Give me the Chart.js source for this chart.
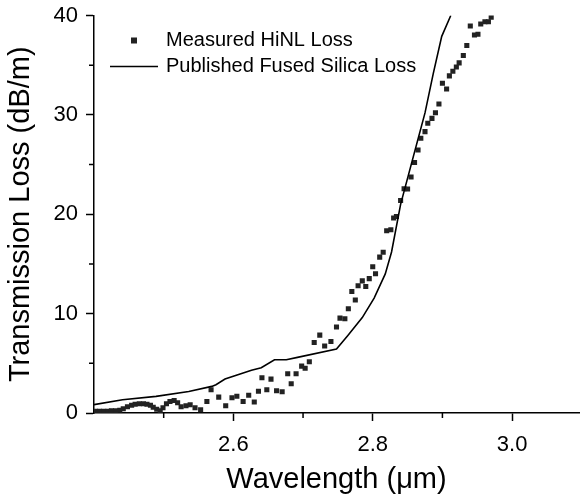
<!DOCTYPE html>
<html>
<head>
<meta charset="utf-8">
<title>Transmission loss</title>
<script src="https://cdn.jsdelivr.net/npm/chart.js"></script>
<style>
  html, body { margin: 0; padding: 0; background: #fff; overflow: hidden; }
  #wrap { width: 583px; height: 499px; }
</style>
</head>
<body>
<div id="wrap"><canvas id="lossChart"></canvas></div>
<script>
// measured HiNL fibre loss, wavelength in um, loss in dB/m
const measuredWl = [2.402, 2.408, 2.414, 2.420, 2.425, 2.431, 2.437, 2.442, 2.448, 2.454,
  2.459, 2.465, 2.471, 2.476, 2.481, 2.485, 2.490, 2.495, 2.499, 2.504,
  2.509, 2.515, 2.520, 2.525, 2.532, 2.538, 2.545, 2.553, 2.562, 2.568,
  2.579, 2.589, 2.598, 2.605, 2.614, 2.622, 2.630, 2.636, 2.641, 2.648,
  2.654, 2.662, 2.670, 2.678, 2.683, 2.690, 2.698, 2.703, 2.709, 2.716,
  2.724, 2.731, 2.740, 2.748, 2.753, 2.760, 2.765, 2.770, 2.775, 2.779,
  2.785, 2.790, 2.795, 2.800, 2.804, 2.810, 2.815, 2.820, 2.826, 2.830,
  2.834, 2.840, 2.845, 2.850, 2.855, 2.860, 2.865, 2.869, 2.875, 2.879,
  2.885, 2.890, 2.895, 2.900, 2.906, 2.910, 2.915, 2.920, 2.924, 2.930,
  2.935, 2.940, 2.946, 2.951, 2.955, 2.961, 2.966, 2.970];
const measuredLoss = [0.18, 0.18, 0.18, 0.18, 0.23, 0.23, 0.28, 0.43, 0.63, 0.78,
  0.88, 0.93, 0.93, 0.88, 0.78, 0.58, 0.38, 0.23, 0.53, 0.93,
  1.16, 1.26, 1.03, 0.63, 0.73, 0.83, 0.53, 0.33, 1.16, 2.34,
  1.60, 0.73, 1.54, 1.69, 1.16, 1.79, 1.10, 2.19, 3.55, 2.34,
  3.41, 2.24, 2.14, 3.95, 2.94, 3.95, 4.72, 4.50, 5.16, 7.10,
  7.84, 6.75, 7.19, 8.65, 9.55, 9.48, 10.49, 12.23, 11.37, 12.80,
  13.30, 12.73, 13.52, 14.71, 14.01, 15.69, 16.18, 18.34, 18.44, 19.62,
  19.78, 21.39, 22.57, 22.54, 23.75, 25.21, 26.47, 27.65, 28.31, 29.15,
  29.65, 30.22, 31.09, 33.18, 32.61, 33.92, 34.39, 34.82, 35.23, 35.98,
  36.98, 38.94, 38.04, 38.11, 39.14, 39.37, 39.37, 39.82];

// published fused silica loss
const silicaWl = [2.400, 2.441, 2.489, 2.536, 2.569, 2.575, 2.588, 2.626, 2.640, 2.659,
  2.676, 2.692, 2.748, 2.764, 2.785, 2.802, 2.818, 2.827, 2.840, 2.859,
  2.875, 2.887, 2.899, 2.912];
const silicaLoss = [0.84, 1.34, 1.67, 2.17, 2.68, 2.85, 3.42, 4.30, 4.55, 5.36,
  5.36, 5.60, 6.43, 7.77, 9.60, 11.56, 14.00, 16.20, 21.00, 26.00,
  30.20, 34.20, 37.90, 40.00];

const xMajor = [2.6, 2.8, 3.0];
const xMinor = [2.5, 2.7, 2.9];
const yMajor = [0, 10, 20, 30, 40];
const yMinor = [5, 15, 25, 35];

const seriesNames = ['Measured HiNL Loss', 'Published Fused Silica Loss'];

const FONT = "'Liberation Sans', Arial, sans-serif";

const near = (v, list) => list.some(t => Math.abs(t - v) < 1e-6);

const measuredPts = measuredWl.map((w, i) => ({ x: w, y: measuredLoss[i] }));
const silicaPts = silicaWl.map((w, i) => ({ x: w, y: silicaLoss[i] }));

// short minor ticks + in-plot legend
const extras = {
  id: 'extras',
  afterDraw(chart) {
    const ctx = chart.ctx;
    const xs = chart.scales.x, ys = chart.scales.y;
    const area = chart.chartArea;
    ctx.save();
    ctx.strokeStyle = '#000';
    ctx.lineWidth = 1.5;
    ctx.beginPath();
    xMinor.forEach(v => {
      const px = xs.getPixelForValue(v);
      ctx.moveTo(px, area.bottom);
      ctx.lineTo(px, area.bottom + 5);
    });
    yMinor.forEach(v => {
      const py = ys.getPixelForValue(v);
      ctx.moveTo(area.left, py);
      ctx.lineTo(area.left - 5, py);
    });
    ctx.stroke();

    // legend
    const lx = area.left + 40, ly1 = area.top + 25, ly2 = area.top + 51;
    ctx.fillStyle = '#222';
    ctx.fillRect(lx - 3, ly1 - 3, 6, 6);
    ctx.beginPath();
    ctx.lineWidth = 1.6;
    ctx.moveTo(lx - 24, ly2);
    ctx.lineTo(lx + 24, ly2);
    ctx.stroke();
    ctx.fillStyle = '#000';
    ctx.font = '20px ' + FONT;
    ctx.textBaseline = 'middle';
    ctx.fillText(seriesNames[0], lx + 32, ly1);
    ctx.fillText(seriesNames[1], lx + 32, ly2);
    ctx.restore();
  }
};

const ctx = document.getElementById('lossChart').getContext('2d');
const lossChart = new Chart(ctx, {
  type: 'scatter',
  data: {
    datasets: [{
      label: seriesNames[0],
      data: measuredPts,
      pointStyle: 'rect',
      pointRadius: 3.6,
      pointBackgroundColor: '#222',
      pointBorderWidth: 0,
      order: 2
    }, {
      type: 'line',
      label: seriesNames[1],
      data: silicaPts,
      borderColor: '#000',
      borderWidth: 1.6,
      pointRadius: 0,
      tension: 0,
      fill: false,
      order: 1
    }]
  },
  options: {
    responsive: true,
    maintainAspectRatio: false,
    animation: false,
    layout: { padding: { top: 15.5, right: 0, left: 0, bottom: 0 } },
    plugins: { legend: { display: false }, tooltip: { enabled: false } },
    scales: {
      x: {
        type: 'linear',
        min: 2.4,
        max: 3.096,
        afterFit(s) { s.height = 86; s.paddingLeft = 0; s.paddingRight = 0; },
        afterBuildTicks(s) { s.ticks = [2.4, 2.6, 2.8, 3.0].map(v => ({ value: v })); },
        ticks: {
          color: '#000',
          font: { family: FONT, size: 22 },
          padding: 11,
          maxRotation: 0,
          callback: v => near(v, xMajor) ? v.toFixed(1) : ''
        },
        grid: { drawOnChartArea: false, tickLength: 8, tickWidth: 1.5, tickColor: ctx2 => near(ctx2.tick.value, xMajor) ? '#000' : 'rgba(0,0,0,0)' },
        border: { color: '#000', width: 1.5 },
        title: { display: true, text: 'Wavelength (μm)', color: '#000', font: { family: FONT, size: 29 }, padding: { top: 2, bottom: 2 } }
      },
      y: {
        min: 0,
        max: 40,
        afterFit(s) { s.width = 94; s.paddingTop = 0; s.paddingBottom = 0; },
        afterBuildTicks(s) { s.ticks = yMajor.map(v => ({ value: v })); },
        ticks: {
          color: '#000',
          font: { family: FONT, size: 22 },
          padding: 8,
          callback: v => String(v)
        },
        grid: { drawOnChartArea: false, tickLength: 8, tickWidth: 1.5, tickColor: '#000' },
        border: { color: '#000', width: 1.5 },
        title: { display: true, text: 'Transmission Loss (dB/m)', color: '#000', font: { family: FONT, size: 29 }, padding: { top: 4, bottom: 2 } }
      }
    }
  },
  plugins: [extras]
});
</script>
</body>
</html>
